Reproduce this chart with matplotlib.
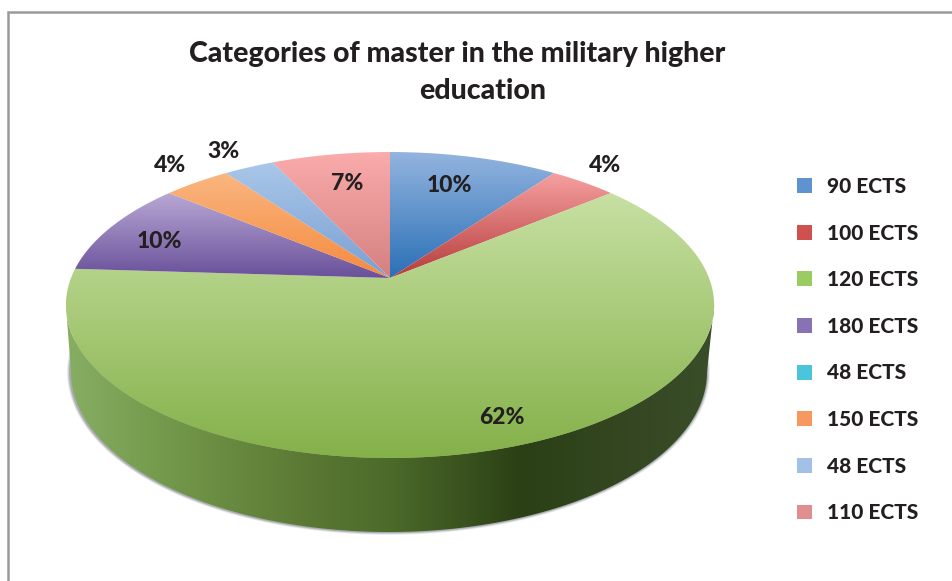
import numpy as np
import matplotlib
matplotlib.use("Agg")
import matplotlib.pyplot as plt
import matplotlib.colors as mcolors
from matplotlib.patches import Polygon, Patch

# Shares of master programmes per ECTS category
categories = ['90 ECTS', '100 ECTS', '120 ECTS', '180 ECTS', '48 ECTS', '150 ECTS', '48 ECTS', '110 ECTS']
values = [10, 4, 62, 10, 0, 4, 3, 7]
legend_colors = ['#5f93cf', '#d0504f', '#9bcb63', '#8871b4', '#4bc4dc', '#f79860', '#a3c1e6', '#e08e8f']

# Slice gradients, top colour then bottom colour
top_colors = ['#93b4df', '#f6a0a0', '#c7e0a2', '#b8a8d4', '#4bc4dc', '#fab680', '#a9c7e9', '#faabab']
bottom_colors = ['#2a70b6', '#b63c3c', '#84b14a', '#69509a', '#4bc4dc', '#f58a3e', '#7a9fd2', '#d58080']

# Label positions in pixels
label_x = [449, 605, 502, 159, None, 170, 224, 347]
label_y = [186, 165, 417, 241, None, 165, 151, 184]

# Side wall shading from left to right
wall_x = [70, 150, 300, 390, 520, 600, 707]
wall_colors = ['#86ad62', '#769c4e', '#5c7a34', '#4c6a2a', '#2b4015', '#32451f', '#3a4d29']

# Perspective of the pie disc
CX, CY = 390, 278
SX, SY = 319, 148.2
K = 0.1765
FONT = 'Lato'
WEIGHT = 900
INK = '#231f20'


def project(theta):
    # theta runs clockwise from twelve o'clock
    u, v = np.sin(theta), np.cos(theta)
    d = 1 + K * v
    return CX + SX * u / d, CY - SY * v / d


def gradient_fill(ax, patch, rows):
    ax.add_patch(patch)
    x0, y0 = patch.get_xy().min(axis=0)
    x1, y1 = patch.get_xy().max(axis=0)
    im = ax.imshow(rows, extent=(x0, x1, y1, y0), aspect='auto', interpolation='bilinear', zorder=patch.get_zorder())
    im.set_clip_path(patch)


fig = plt.figure(figsize=(9.53, 5.81), dpi=100)
ax = fig.add_axes([0, 0, 1, 1])
ax.axis('off')

# Bottom outline of the disc
t = np.linspace(0, np.pi, 200)
base_x = 389 + 318 * np.cos(t)
base_y = 372 + 160 * np.sin(t)

# Soft shadow under the wall, curving back in behind the side
ts = np.linspace(-0.25, np.pi + 0.25, 240)
for grow, alpha in zip([3.5, 2.5, 1.5], [0.12, 0.2, 0.3]):
    shadow_xy = np.column_stack([388.5 + (318 + grow) * np.cos(ts), 372 + (160 + grow * 0.8) * np.sin(ts)])
    ax.add_patch(Polygon(shadow_xy, closed=True, fc='#5a5f66', ec='none', alpha=alpha, zorder=1))

# Side wall: front rim of the top face joined to the bottom outline
side = np.arccos(-K)
rim_theta = np.linspace(side, 2 * np.pi - side, 300)
rim_x, rim_y = project(rim_theta)
wall_xy = np.column_stack([np.r_[rim_x, base_x[::-1]], np.r_[rim_y, base_y[::-1]]])
wall = Polygon(wall_xy, closed=True, fc='none', ec='none', zorder=2)
xs = np.linspace(wall_xy[:, 0].min(), wall_xy[:, 0].max(), 256)
wall_rgb = np.array([mcolors.to_rgb(c) for c in wall_colors])
wall_img = np.stack([np.interp(xs, wall_x, wall_rgb[:, i]) for i in range(3)], axis=-1)[np.newaxis, :, :]
gradient_fill(ax, wall, wall_img)

# Top face slices
edges = np.cumsum([0] + values) / sum(values) * 2 * np.pi
for i, val in enumerate(values):
    if val == 0:
        continue
    arc = np.linspace(edges[i], edges[i + 1], max(int(val * 12), 12))
    arc_x, arc_y = project(arc)
    xy = np.column_stack([np.r_[CX, arc_x], np.r_[CY, arc_y]])
    wedge = Polygon(xy, closed=True, fc='none', ec='none', zorder=3)
    c0 = np.array(mcolors.to_rgb(top_colors[i]))
    c1 = np.array(mcolors.to_rgb(bottom_colors[i]))
    ramp = np.linspace(0, 1, 256)[:, np.newaxis, np.newaxis]
    gradient_fill(ax, wedge, (c0 + (c1 - c0) * ramp).reshape(256, 1, 3))

# Value labels
for i, val in enumerate(values):
    if val == 0:
        continue
    ax.text(label_x[i], label_y[i], f'{val}%', ha='center', va='center', fontsize=16.5, fontweight=WEIGHT,
            family=FONT, color=INK, zorder=5)

# Two line title, the second line sits off centre
ax.text(457, 54, 'Categories of master in the military higher', ha='center', va='center',
        fontsize=20.5, fontweight=WEIGHT, family=FONT, color=INK, zorder=5)
ax.text(483, 91, 'education', ha='center', va='center', fontsize=20.5, fontweight=WEIGHT,
        family=FONT, color=INK, zorder=5)

# Chart frame, only the top and left edges are in view
ax.plot([8.5, 8.5, 953], [581, 11.5, 11.5], color='#9a9a9c', lw=1.8, zorder=4, solid_joinstyle='miter')

handles = [Patch(fc=c, ec='none') for c in legend_colors]
leg = ax.legend(handles, categories, loc='upper left', bbox_to_anchor=(797 / 953, 1 - 177 / 581),
                frameon=False, borderpad=0, borderaxespad=0, handlelength=0.72,
                handleheight=0.72, handletextpad=0.72, labelspacing=1.325,
                prop={'family': FONT, 'weight': WEIGHT, 'size': 15})
for txt in leg.get_texts():
    txt.set_color(INK)

ax.set_xlim(0, 953)
ax.set_ylim(581, 0)
fig.savefig('out.png', dpi=100, facecolor='white')
